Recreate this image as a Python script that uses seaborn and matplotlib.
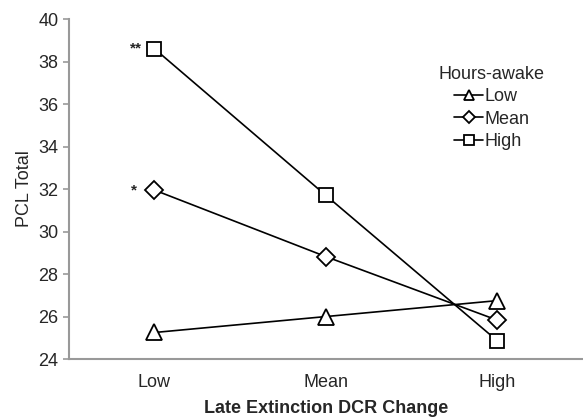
import matplotlib
matplotlib.use("Agg")
import matplotlib.pyplot as plt
import seaborn as sns
import pandas as pd

# data
dcr_levels = ["Low", "Mean", "High"]
awake_levels = ["Low", "Mean", "High"]
pcl_low = [25.25, 26.0, 26.75]
pcl_mean = [31.95, 28.82, 25.83]
pcl_high = [38.6, 31.7, 24.86]

df = pd.DataFrame({
    "dcr": dcr_levels * 3,
    "awake": [a for a in awake_levels for _ in range(3)],
    "pcl": pcl_low + pcl_mean + pcl_high,
})

sns.set_style("ticks")
plt.rcParams["font.family"] = ["Liberation Sans", "DejaVu Sans"]

fig = plt.figure(figsize=(5.83, 4.18), dpi=100)
ax = fig.add_axes([0.118, 0.141, 0.882, 0.8135])

markers = {"Low": "^", "Mean": "D", "High": "s"}
sizes = {"Low": 11.5, "Mean": 9.5, "High": 10}
for a in awake_levels:
    sub = df[df["awake"] == a]
    sns.lineplot(data=sub, x="dcr", y="pcl", ax=ax, color="black", lw=1.2,
                 marker=markers[a], markersize=sizes[a], markerfacecolor="white",
                 markeredgecolor="black", markeredgewidth=1.3, label=a, sort=False)

ax.set_xlim(-0.5, 2.5)
ax.set_ylim(24, 40)
ax.set_yticks(range(24, 41, 2))
ax.set_xlabel("Late Extinction DCR Change", fontsize=13, fontweight="bold", labelpad=6)
ax.set_ylabel("PCL Total", fontsize=13, labelpad=4)
ax.tick_params(axis="y", labelsize=13, length=4, color="#999999", width=1.2)
ax.tick_params(axis="x", labelsize=13, length=0, pad=11)

for s in ["top", "right"]:
    ax.spines[s].set_visible(False)
for s in ["left", "bottom"]:
    ax.spines[s].set_color("#999999")
    ax.spines[s].set_linewidth(1.5)

# significance stars
ax.text(-0.075, 38.6, "**", fontsize=11, fontweight="bold", ha="right", va="center")
ax.text(-0.1, 31.95, "*", fontsize=11, fontweight="bold", ha="right", va="center")

leg = ax.legend(title="Hours-awake", frameon=False, fontsize=13, title_fontsize=13,
                loc="upper center", bbox_to_anchor=(0.823, 0.91), handlelength=1.6,
                handletextpad=0.1, labelspacing=0.3, markerscale=0.65)

fig.savefig("out.png", dpi=100)
